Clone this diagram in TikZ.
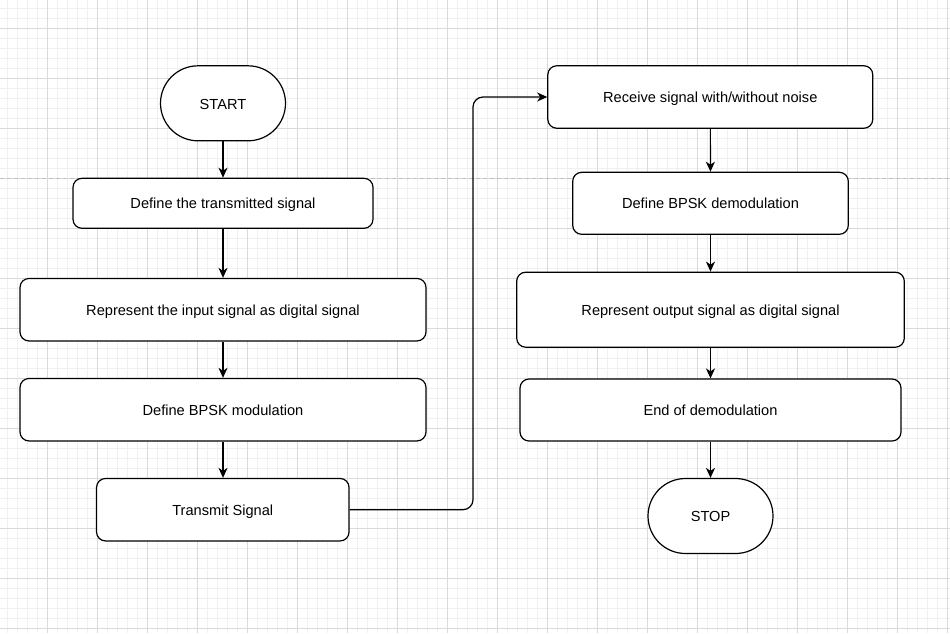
\documentclass[tikz,border=0pt]{standalone}
\usepackage{fontspec}
\setmainfont{Liberation Sans}
\usetikzlibrary{arrows.meta}
\definecolor{minorgrid}{HTML}{F0F0F0}
\definecolor{majorgrid}{HTML}{DADADA}
\definecolor{pagebreak}{HTML}{C0C0C0}
\tikzset{
  box/.style={draw=black, line width=1.2pt, fill=white, rounded corners=9pt,
    inner sep=0pt, font=\fontsize{14.6}{17}\selectfont, align=center,
    text height=11pt, text depth=0pt},
  term/.style={draw=black, line width=1.2pt, fill=white, rounded corners=37.5pt,
    minimum width=125pt, minimum height=75pt, inner sep=0pt,
    font=\fontsize{14.6}{17}\selectfont, text height=11.5pt, text depth=0pt},
  arr/.style={draw=black, line width=1.2pt,
    -{Stealth[length=10pt,width=9pt,inset=3pt]}},
}
\begin{document}
\begin{tikzpicture}[x=1pt,y=-1pt]
\useasboundingbox (0,0) rectangle (950,633);
\fill[white] (0,0) rectangle (950,633);
% minor grid
\foreach \i in {0,...,94} {
  \draw[minorgrid, line width=0.8pt] ({7.5+10*\i},0) -- ({7.5+10*\i},633);
}
\foreach \j in {0,...,62} {
  \draw[minorgrid, line width=0.8pt] (0,{8.3+10*\j}) -- (950,{8.3+10*\j});
}
% major grid
\foreach \i in {0,...,18} {
  \draw[majorgrid, line width=0.8pt] ({47.5+50*\i},0) -- ({47.5+50*\i},633);
}
\foreach \j in {0,...,12} {
  \draw[majorgrid, line width=0.8pt] (0,{28.3+50*\j}) -- (950,{28.3+50*\j});
}
% page break line
\draw[pagebreak, line width=0.8pt, dash pattern=on 4pt off 3pt] (0,178.3) -- (950,178.3);

% left column
\node[term] (start) at (223,103.3) {START};
\node[box, minimum width=300pt, minimum height=50pt] (n1) at (223,203.3) {Define the transmitted signal};
\node[box, minimum width=406pt, minimum height=62.5pt] (n2) at (223,309.7) {Represent the input signal as digital signal};
\node[box, minimum width=406pt, minimum height=62.5pt] (n3) at (223,409.7) {Define BPSK modulation};
\node[box, minimum width=252.5pt, minimum height=62.5pt] (n4) at (222.8,509.7) {Transmit Signal};

% right column
\node[box, minimum width=325pt, minimum height=62.5pt] (r1) at (710.3,97) {Receive signal with/without noise};
\node[box, minimum width=275.6pt, minimum height=62pt] (r2) at (710.5,203.3) {Define BPSK demodulation};
\node[box, minimum width=387.6pt, minimum height=75pt] (r3) at (710.5,309.7) {Represent output signal as digital signal};
\node[box, minimum width=381pt, minimum height=62pt] (r4) at (710.5,410) {End of demodulation};
\node[term] (stop) at (710.5,516) {STOP};

% connectors
\draw[arr] (start) -- (n1);
\draw[arr] (n1) -- (n2);
\draw[arr] (n2) -- (n3);
\draw[arr] (n3) -- (n4.north -| n3);
\coordinate (bend) at (473,97);
\draw[arr, rounded corners=10pt] (n4.east) -| (bend) -- (r1.west);
\draw[arr] (r1) -- (r2);
\draw[arr] (r2) -- (r3);
\draw[arr] (r3) -- (r4);
\draw[arr] (r4.south -| stop) -- (stop);
\end{tikzpicture}
\end{document}
